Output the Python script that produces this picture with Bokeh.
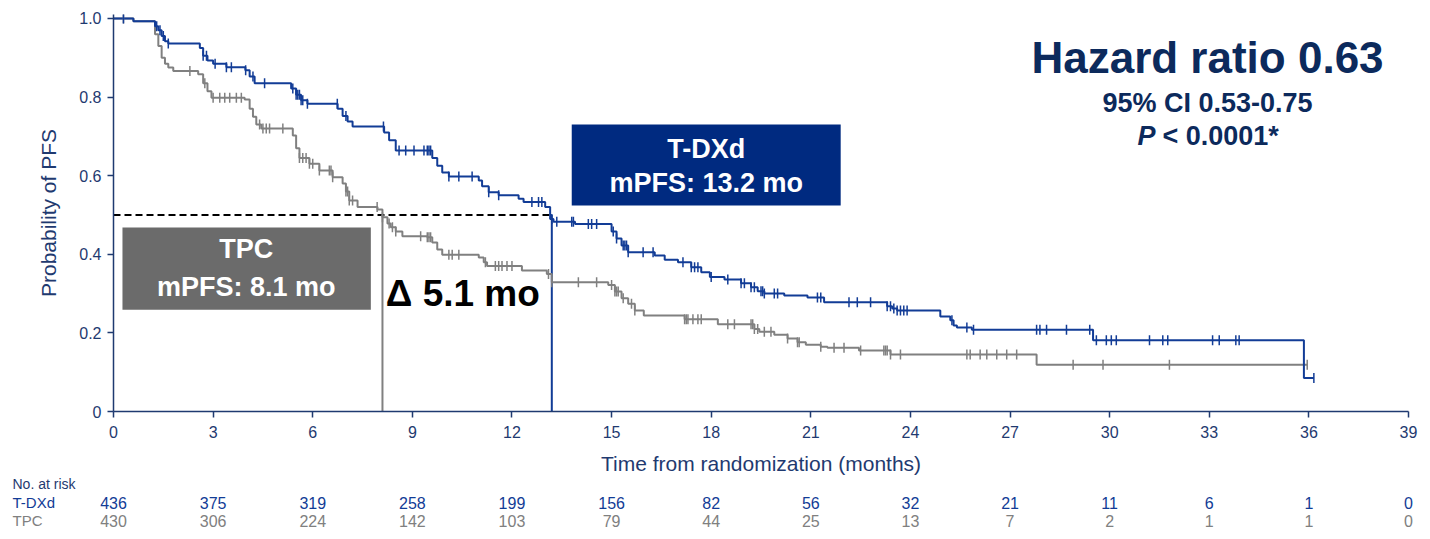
import numpy as np
from bokeh.plotting import figure
from bokeh.layouts import column
from bokeh.models import Range1d, FixedTicker
from bokeh.core.properties import value
from bokeh.embed import file_html
from bokeh.resources import INLINE

# Kaplan-Meier step points (time in months, survival probability)
tdxd_t = [0, 0.6, 1.25, 1.35, 1.45, 1.55, 1.65, 2.6, 2.7, 2.83, 3.0, 3.4, 3.97, 4.1, 4.25,
          5.35, 5.5, 5.65, 5.84, 6.75, 6.9, 7.05, 7.2, 8.15, 8.3, 8.5, 9.6, 9.75, 9.9, 10.1,
          11.0, 11.1, 11.3, 11.6, 12.2, 12.35, 13.0, 13.15, 13.25, 13.9, 15.0, 15.15, 15.3,
          15.5, 16.3, 16.6, 17.0, 17.4, 17.7, 17.96, 18.4, 18.9, 19.2, 19.4, 19.6, 20.2, 20.9,
          21.4, 23.3, 23.45, 23.6, 24.9, 25.2, 25.3, 25.4, 25.85, 29.5, 35.85, 36.15]
tdxd_s = [1.0, 0.993, 0.98, 0.97, 0.955, 0.942, 0.936, 0.925, 0.905, 0.893, 0.885, 0.876, 0.868,
          0.852, 0.835, 0.822, 0.806, 0.792, 0.783, 0.77, 0.752, 0.738, 0.725, 0.71, 0.69, 0.664,
          0.645, 0.625, 0.608, 0.598, 0.588, 0.573, 0.558, 0.55, 0.541, 0.533, 0.52, 0.49, 0.483,
          0.477, 0.458, 0.44, 0.422, 0.405, 0.397, 0.386, 0.38, 0.367, 0.354, 0.342, 0.336, 0.326,
          0.316, 0.306, 0.3, 0.295, 0.29, 0.278, 0.268, 0.262, 0.257, 0.242, 0.232, 0.219, 0.214,
          0.208, 0.181, 0.085, 0.085]

tpc_t = [0, 0.6, 1.25, 1.35, 1.45, 1.55, 1.65, 1.8, 2.55, 2.7, 2.83, 2.95, 3.95, 4.1, 4.2, 4.3,
         4.45, 5.4, 5.5, 5.6, 5.9, 6.2, 6.6, 6.9, 7.0, 7.1, 7.35, 7.95, 8.1, 8.25, 8.35, 8.5, 8.7,
         9.45, 9.6, 9.75, 9.9, 11.0, 11.15, 11.25, 12.3, 13.05, 13.2, 14.9, 15.1, 15.3, 15.5, 15.7,
         15.97, 17.2, 18.2, 19.3, 19.45, 19.9, 20.3, 20.6, 20.85, 21.3, 21.5, 22.45, 23.4, 27.8, 35.95]
tpc_s = [1.0, 0.993, 0.96, 0.93, 0.9, 0.885, 0.875, 0.866, 0.858, 0.835, 0.815, 0.798, 0.794, 0.77,
         0.75, 0.73, 0.72, 0.702, 0.67, 0.645, 0.63, 0.613, 0.596, 0.58, 0.56, 0.537, 0.52, 0.514,
         0.494, 0.478, 0.469, 0.458, 0.446, 0.443, 0.43, 0.412, 0.399, 0.392, 0.38, 0.37, 0.359,
         0.35, 0.329, 0.322, 0.305, 0.288, 0.274, 0.257, 0.244, 0.235, 0.222, 0.21, 0.203, 0.195,
         0.186, 0.176, 0.17, 0.165, 0.162, 0.155, 0.145, 0.119, 0.119]

# censoring times
tdxd_cens = [0.3, 1.3, 1.4, 1.5, 1.65, 2.7, 2.8, 3.06, 3.4, 3.55, 3.98, 4.2, 4.55, 5.4, 5.5, 5.55,
             5.6, 5.65, 5.7, 5.84, 6.74, 7.0, 8.13, 8.6, 8.8, 9.05, 9.35, 9.45, 9.5, 9.55, 10.1,
             10.4, 10.8, 11.3, 11.6, 12.6, 12.8, 12.9, 13.2, 13.35, 13.8, 13.85, 14.3, 14.4, 14.55,
             15.05, 15.15, 15.35, 15.4, 15.45, 15.5, 15.95, 16.25, 17.15, 17.4, 17.5, 17.6, 18.0,
             18.5, 18.9, 19.0, 19.2, 19.3, 19.5, 19.55, 19.6, 19.9, 20.0, 21.2, 21.3, 22.15, 22.4,
             22.8, 23.3, 23.4, 23.5, 23.6, 23.7, 23.8, 23.9, 25.25, 25.7, 25.9, 27.8, 27.9, 28.1,
             28.7, 29.4, 29.6, 29.9, 30.05, 30.2, 31.2, 31.6, 31.75, 33.1, 33.3, 33.8, 33.9, 36.15]
tpc_cens = [0.3, 2.3, 2.75, 3.0, 3.2, 3.35, 3.5, 3.7, 3.85, 4.4, 4.5, 4.6, 4.7, 5.1, 5.6, 5.7, 5.8,
            5.9, 6.0, 6.2, 6.5, 6.55, 6.6, 7.0, 7.05, 7.1, 7.2, 7.94, 8.1, 8.3, 8.4, 8.5, 9.25, 9.45,
            9.5, 9.55, 10.1, 10.2, 10.4, 11.2, 11.5, 11.6, 11.7, 11.85, 12.0, 13.1, 13.2, 14.0,
            14.55, 15.0, 15.1, 15.15, 15.2, 15.35, 15.6, 15.7, 17.2, 17.25, 17.3, 17.45, 17.6, 17.7,
            18.5, 18.7, 19.2, 19.25, 19.3, 19.4, 19.6, 19.8, 20.3, 20.6, 20.65, 21.3, 21.7, 22.0,
            22.5, 23.2, 23.25, 23.3, 23.4, 23.7, 25.7, 25.8, 26.1, 26.3, 26.6, 26.9, 27.2, 28.9,
            29.8, 31.8, 35.95]

median_tdxd = 13.2
median_tpc = 8.1

x_ticks = [0, 3, 6, 9, 12, 15, 18, 21, 24, 27, 30, 33, 36, 39]
y_ticks = [0, 0.2, 0.4, 0.6, 0.8, 1.0]
y_tick_labels = ["0", "0.2", "0.4", "0.6", "0.8", "1.0"]
tdxd_risk = [436, 375, 319, 258, 199, 156, 82, 56, 32, 21, 11, 6, 1, 0]
tpc_risk = [430, 306, 224, 142, 103, 79, 44, 25, 13, 7, 2, 1, 1, 0]

BLUE = "#123c96"
GRAY = "#808080"
NAVY = "#1f3a70"
DARK = "#0c2a5c"
FONT = value("Liberation Sans")

W = 1430
H1 = 477
H2 = 62
LEFT, RIGHT, TOP, BOTTOM = 113, 22, 14, 66


def surv_at(ts, ss, c):
    i = np.searchsorted(ts, c, side="right") - 1
    return np.array(ss)[i]


p = figure(width=W, height=H1, output_backend="svg", toolbar_location=None,
           x_range=Range1d(0, 39), y_range=Range1d(0, 1.01),
           min_border_left=LEFT, min_border_right=RIGHT, min_border_top=TOP,
           min_border_bottom=BOTTOM, x_axis_label="Time from randomization (months)",
           y_axis_label="Probability of PFS")
p.frame_align = False
p.grid.visible = False
p.outline_line_color = None
p.background_fill_color = "white"
p.border_fill_color = "white"

for ax in (p.xaxis[0], p.yaxis[0]):
    ax.axis_line_color = NAVY
    ax.axis_line_width = 1.5
    ax.major_tick_line_color = NAVY
    ax.major_tick_line_width = 1.5
    ax.major_tick_out = 6
    ax.major_tick_in = 0
    ax.minor_tick_line_color = None
    ax.major_label_text_color = NAVY
    ax.major_label_text_font = "Liberation Sans"
    ax.major_label_text_font_size = "16px"
    ax.axis_label_text_color = NAVY
    ax.axis_label_text_font = "Liberation Sans"
    ax.axis_label_text_font_size = "21px"
    ax.axis_label_text_font_style = "normal"

p.xaxis[0].ticker = FixedTicker(ticks=x_ticks)
p.xaxis[0].major_label_standoff = 8
p.xaxis[0].axis_label_standoff = 11
p.yaxis[0].ticker = FixedTicker(ticks=y_ticks)
p.yaxis[0].major_label_overrides = {t: l for t, l in zip(y_ticks, y_tick_labels)}
p.yaxis[0].major_label_standoff = 6
p.yaxis[0].axis_label_standoff = 16

# median guide lines
p.line([0, median_tdxd], [0.5, 0.5], line_color="black", line_width=2, line_dash="7 4")
p.line([median_tpc, median_tpc], [0, 0.5], line_color=GRAY, line_width=2)
p.line([median_tdxd, median_tdxd], [0, 0.5], line_color=BLUE, line_width=2)

# curves
p.step(tpc_t, tpc_s, mode="after", line_color=GRAY, line_width=2)
p.step(tdxd_t, tdxd_s, mode="after", line_color=BLUE, line_width=2)
p.scatter(tpc_cens, surv_at(tpc_t, tpc_s, tpc_cens), marker="dash", angle=np.pi / 2,
          size=10, line_color=GRAY, line_width=1.5)
p.scatter(tdxd_cens, surv_at(tdxd_t, tdxd_s, tdxd_cens), marker="dash", angle=np.pi / 2,
          size=10, line_color=BLUE, line_width=1.5)

# median boxes
p.quad(left=[0.27], right=[7.75], bottom=[0.259], top=[0.468], fill_color="#6b6b6b",
       line_color=None)
p.quad(left=[13.8], right=[21.9], bottom=[0.524], top=[0.73], fill_color="#002a80",
       line_color=None)
p.text([4.0, 4.0], [0.414, 0.316], text=["TPC", "mPFS: 8.1 mo"], text_color="white",
       text_font=FONT, text_font_style="bold", text_font_size="27px",
       text_align="center", text_baseline="middle")
p.text([17.85, 17.85], [0.669, 0.581], text=["T-DXd", "mPFS: 13.2 mo"], text_color="white",
       text_font=FONT, text_font_style="bold", text_font_size="27px",
       text_align="center", text_baseline="middle")
p.text([8.2], [0.30], text=["\u0394 5.1 mo"], text_color="black", text_font=FONT,
       text_font_style="bold", text_font_size="37px", text_align="left",
       text_baseline="middle")

# hazard ratio block
ppm = (W - LEFT - RIGHT) / 39
p.text([(1207 - 113) / ppm], [(411 - 57) / 393], text=["Hazard ratio 0.63"], text_color=DARK,
       text_font=FONT, text_font_style="bold", text_font_size="44px", text_align="center",
       text_baseline="middle")
p.text([(1207 - 113) / ppm], [(411 - 103) / 393], text=["95% CI 0.53-0.75"], text_color=DARK,
       text_font=FONT, text_font_style="bold", text_font_size="27px", text_align="center",
       text_baseline="middle")
p.text([(1155 - 113) / ppm], [(411 - 136) / 393], text=["P"], text_color=DARK,
       text_font=FONT, text_font_style="bold italic", text_font_size="27px",
       text_align="right", text_baseline="middle")
p.text([(1162 - 113) / ppm], [(411 - 136) / 393], text=["< 0.0001*"], text_color=DARK,
       text_font=FONT, text_font_style="bold", text_font_size="27px", text_align="left",
       text_baseline="middle")

# number at risk table, its frame spans the full width
x0 = -LEFT / ppm
x1 = 39 + RIGHT / ppm
t = figure(width=W, height=H2, output_backend="svg", toolbar_location=None,
           x_range=Range1d(x0, x1), y_range=Range1d(H2, 0),
           min_border_left=0, min_border_right=0, min_border_top=0, min_border_bottom=0)
t.frame_align = False
t.axis.visible = False
t.grid.visible = False
t.outline_line_color = None
lx = x0 + 12 / ppm
t.text([lx], [6], text=["No. at risk"], text_color=NAVY, text_font=FONT,
       text_font_size="14px", text_baseline="middle")
t.text([lx], [25], text=["T-DXd"], text_color=BLUE, text_font=FONT,
       text_font_size="15px", text_baseline="middle")
t.text([lx], [43], text=["TPC"], text_color=GRAY, text_font=FONT,
       text_font_size="15px", text_baseline="middle")
t.text(x_ticks, [25] * len(x_ticks), text=[str(v) for v in tdxd_risk], text_color=BLUE,
       text_font=FONT, text_font_size="16px", text_align="center", text_baseline="middle")
t.text(x_ticks, [43] * len(x_ticks), text=[str(v) for v in tpc_risk], text_color=GRAY,
       text_font=FONT, text_font_size="16px", text_align="center", text_baseline="middle")

layout = column(p, t, spacing=0)
open("out.html", "w").write(file_html(layout, INLINE))
